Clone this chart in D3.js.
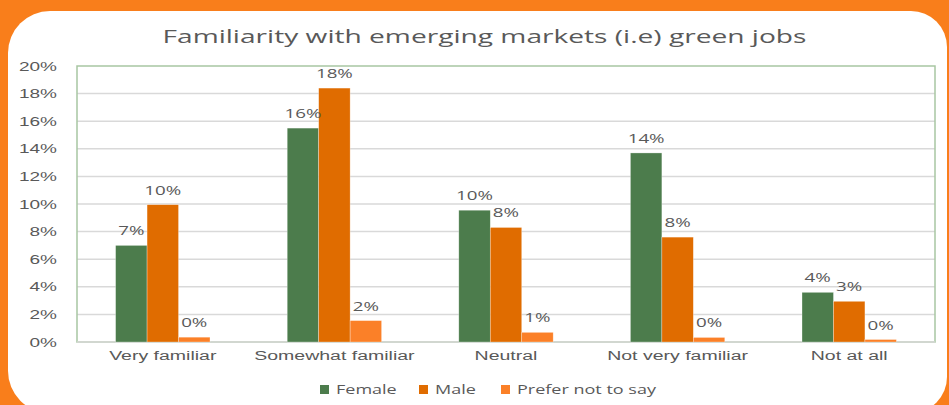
<!DOCTYPE html>
<html><head><meta charset="utf-8">
<script src="https://cdn.jsdelivr.net/npm/d3@7"></script>
<style>
html,body{margin:0;padding:0;background:#F97E1B;}
svg{display:block;font-family:"Open Sans",sans-serif;}
</style></head>
<body><svg id="c" width="949" height="405"></svg>
<script>
const categories = ["Very familiar","Somewhat familiar","Neutral","Not very familiar","Not at all"];
const seriesNames = ["Female","Male","Prefer not to say"];
const female = [7.0, 15.5, 9.55, 13.7, 3.6];
const male = [9.95, 18.4, 8.3, 7.6, 2.95];
const preferNot = [0.35, 1.55, 0.7, 0.33, 0.18];
const yTicks = [0,2,4,6,8,10,12,14,16,18,20];
const colors = ["#4C7C4C","#E06C00","#FB8028"];
const title = "Familiarity with emerging markets (i.e) green jobs";

const series = [female, male, preferNot];
const svg = d3.select("#c");
function fit(k){ return sel => sel.each(function(){ const w=this.getComputedTextLength(); d3.select(this).attr("textLength", w*k).attr("lengthAdjust","spacingAndGlyphs"); }); }

// white card
const L=8,T=11,R=947,B=413,r1=42,r2=36;
svg.append("path").attr("fill","#fff")
  .attr("d",`M${L+r1},${T} H${R-r2} A${r2},${r2} 0 0 1 ${R},${T+r2} V${B-r2} A${r2},${r2} 0 0 1 ${R-r2},${B} H${L+r1} A${r1},${r1} 0 0 1 ${L},${B-r1} V${T+r1} A${r1},${r1} 0 0 1 ${L+r1},${T} Z`);

const pl=77, pr=935, pt=66, pb=342;
const y = d3.scaleLinear().domain([0,20]).range([pb,pt]);
const x0 = d3.scaleBand().domain(categories).range([pl,pr]).paddingInner(0.45).paddingOuter(0.225);
const x1 = d3.scaleBand().domain(seriesNames).range([0,x0.bandwidth()]);

// gridlines
svg.append("g").selectAll("line").data(yTicks.filter(t=>t>0&&t<20)).join("line")
  .attr("x1",pl).attr("x2",pr).attr("y1",d=>y(d)).attr("y2",d=>y(d))
  .attr("stroke","#D9D9D9").attr("stroke-width",1.5);
// frame
svg.append("rect").attr("x",pl).attr("y",pt).attr("width",pr-pl).attr("height",pb-pt)
  .attr("fill","none").attr("stroke","#A8C6A2").attr("stroke-width",1.5);
svg.append("line").attr("x1",pl).attr("x2",pr).attr("y1",pb).attr("y2",pb).attr("stroke","#D9D9D9").attr("stroke-width",1.5);

// y axis
const yAxis = d3.axisLeft(y).tickValues(yTicks).tickFormat(d=>d+"%").tickSize(0).tickPadding(20);
const ya = svg.append("g").attr("transform",`translate(${pl},0)`).call(yAxis);
ya.select(".domain").remove();
ya.selectAll("text").attr("fill","#595959").style("font-size","12.5px").call(fit(1.52));

// x axis
const xAxis = d3.axisBottom(x0).tickSize(0).tickPadding(9);
const xa = svg.append("g").attr("transform",`translate(0,${pb})`).call(xAxis);
xa.select(".domain").remove();
xa.selectAll("text").attr("fill","#595959").style("font-size","12.5px").call(fit(1.56));

// bars
const rows = categories.map((c,i)=>({c, vals: seriesNames.map((s,j)=>({s, j, v: series[j][i]}))}));
const g = svg.append("g").selectAll("g").data(rows).join("g").attr("transform",d=>`translate(${x0(d.c)},0)`);
g.selectAll("rect").data(d=>d.vals).join("rect")
  .attr("x",d=>x1(d.s)).attr("width",x1.bandwidth())
  .attr("y",d=>y(d.v)).attr("height",d=>y(0)-y(d.v))
  .attr("fill",d=>colors[d.j]).attr("stroke","#fff").attr("stroke-opacity",0.5).attr("stroke-width",0.6);
g.selectAll("text").data(d=>d.vals).join("text")
  .attr("x",d=>x1(d.s)+x1.bandwidth()/2).attr("y",d=>y(d.v)-10)
  .attr("text-anchor","middle").attr("fill","#595959").style("font-size","12.5px")
  .text(d=>Math.round(d.v)+"%").call(fit(1.5));

// title
svg.append("text").attr("x",484.5).attr("y",43).attr("text-anchor","middle")
  .attr("fill","#595959").style("font-size","18.5px").text(title).call(fit(1.52));

// legend
const legX = [320,419,501];
const lg = svg.append("g").selectAll("g").data(seriesNames).join("g")
  .attr("transform",(d,i)=>`translate(${legX[i]},385)`);
lg.append("rect").attr("width",9).attr("height",9).attr("fill",(d,i)=>colors[i]);
lg.append("text").attr("x",16).attr("y",9).attr("fill","#595959").style("font-size","12.5px").text(d=>d).call(fit(1.44));
</script></body></html>
